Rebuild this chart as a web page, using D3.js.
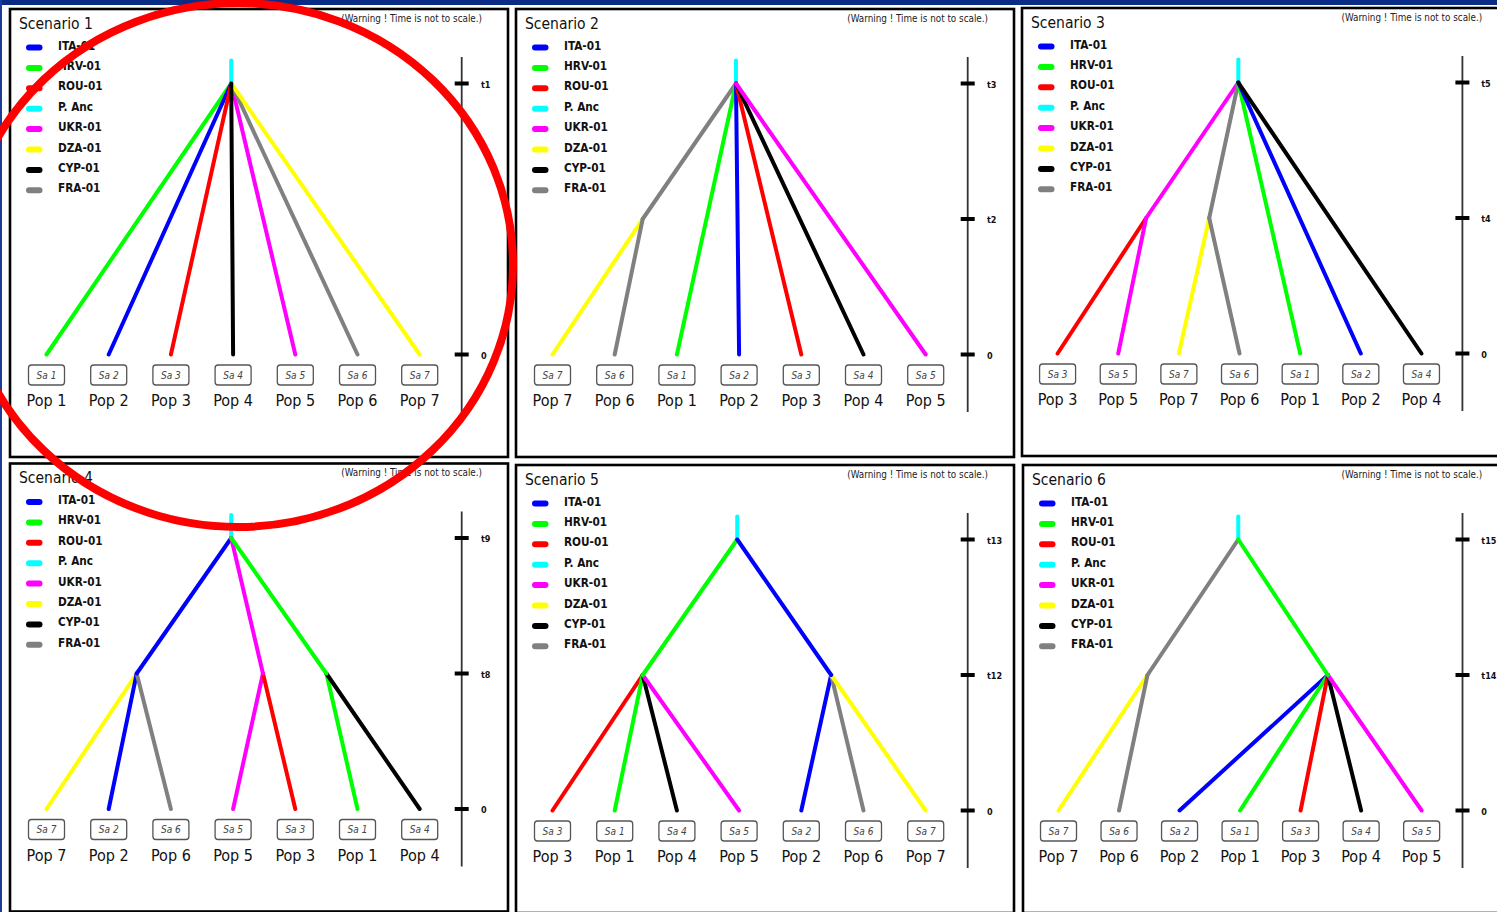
<!DOCTYPE html>
<html>
<head>
<meta charset="utf-8">
<script src="https://cdn.jsdelivr.net/npm/d3@7"></script>
<style>
  html, body { margin: 0; padding: 0; background: #fff; }
  svg { display: block; }
  text { font-family: "DejaVu Sans Condensed", "DejaVu Sans", sans-serif; font-stretch: condensed; }
</style>
</head>
<body>
<svg id="chart"></svg>
<script>
// legend entries (sample names and their colours)
const sampleNames  = ["ITA-01", "HRV-01", "ROU-01", "P. Anc", "UKR-01", "DZA-01", "CYP-01", "FRA-01"];
const sampleColors = ["#0000ff", "#00ff00", "#ff0000", "#00ffff", "#ff00ff", "#ffff00", "#000000", "#808080"];

// sample carried by Pop 1 .. Pop 7
const popSamples = ["HRV-01", "ITA-01", "ROU-01", "CYP-01", "UKR-01", "FRA-01", "DZA-01"];
const ancestorSample = "P. Anc";

const scenarioNames = ["Scenario 1", "Scenario 2", "Scenario 3", "Scenario 4", "Scenario 5", "Scenario 6"];

// left-to-right order of the sampled populations
const leafOrders = [
  [1, 2, 3, 4, 5, 6, 7],
  [7, 6, 1, 2, 3, 4, 5],
  [3, 5, 7, 6, 1, 2, 4],
  [7, 2, 6, 5, 3, 1, 4],
  [3, 1, 4, 5, 2, 6, 7],
  [7, 6, 2, 1, 3, 4, 5]
];

// time axis labels for levels 0, 1, 2
const timeLabels = [
  ["0", null, "t1"],
  ["0", "t2", "t3"],
  ["0", "t4", "t5"],
  ["0", "t8", "t9"],
  ["0", "t12", "t13"],
  ["0", "t14", "t15"]
];

// horizontal slot of the internal nodes (r = root at level 2, others at level 1)
const nodeSlots = [
  {r: 2.97},
  {r: 2.95, a: 1.45},
  {r: 2.98, a: 1.46, b: 2.5},
  {r: 2.97, a: 1.45, b: 3.48, c: 4.5},
  {r: 2.97, a: 1.45, b: 4.48},
  {r: 2.97, a: 1.47, b: 4.45}
];

// branches: [pop giving the colour, child (pop number or node), parent node]
const branches = [
  [[1, 1, "r"], [2, 2, "r"], [3, 3, "r"], [5, 5, "r"], [6, 6, "r"], [7, 7, "r"], [4, 4, "r"]],
  [[7, 7, "a"], [6, 6, "a"], [6, "a", "r"], [1, 1, "r"], [2, 2, "r"], [3, 3, "r"], [4, 4, "r"], [5, 5, "r"]],
  [[3, 3, "a"], [5, 5, "a"], [7, 7, "b"], [6, 6, "b"], [5, "a", "r"], [6, "b", "r"], [1, 1, "r"], [2, 2, "r"], [4, 4, "r"]],
  [[7, 7, "a"], [2, 2, "a"], [6, 6, "a"], [5, 5, "b"], [3, 3, "b"], [1, 1, "c"], [4, 4, "c"], [2, "a", "r"], [5, "b", "r"], [1, "c", "r"]],
  [[3, 3, "a"], [1, 1, "a"], [4, 4, "a"], [5, 5, "a"], [2, 2, "b"], [6, 6, "b"], [7, 7, "b"], [1, "a", "r"], [2, "b", "r"]],
  [[7, 7, "a"], [6, 6, "a"], [2, 2, "b"], [1, 1, "b"], [3, 3, "b"], [4, 4, "b"], [5, 5, "b"], [6, "a", "r"], [1, "b", "r"]]
];

const W = 1497, H = 912;
const svg = d3.select("#chart").attr("width", W).attr("height", H);

// slide frame
svg.append("rect").attr("x", 0).attr("y", 0).attr("width", W).attr("height", 5).attr("fill", "#0b2c86");
svg.append("rect").attr("x", 0).attr("y", 0).attr("width", 2).attr("height", H).attr("fill", "#1d3c98");

// panel placement (sx = slight horizontal squeeze of the right column)
const panels = [
  {x: 10,   y: 9,     sx: 1},
  {x: 516,  y: 9,     sx: 1},
  {x: 1022, y: 8,     sx: 0.975},
  {x: 10,   y: 463.5, sx: 1},
  {x: 516,  y: 465,   sx: 1},
  {x: 1023, y: 465,   sx: 0.973}
];
const panelW = 498, panelH = 448;

const colorOf = name => sampleColors[sampleNames.indexOf(name)];
const popColor = p => colorOf(popSamples[p - 1]);

panels.forEach((p, i) => {
  const g = svg.append("g").attr("transform", `translate(${p.x},${p.y})`);

  g.append("rect")
    .attr("width", panelW).attr("height", panelH)
    .attr("fill", "#fff").attr("stroke", "#000").attr("stroke-width", 2.6);

  g.append("text")
    .attr("x", 9).attr("y", 19.5)
    .attr("font-size", 15.5).attr("fill", "#111")
    .text(scenarioNames[i]);

  g.append("text")
    .attr("x", 472 * p.sx).attr("y", 12.5)
    .attr("text-anchor", "end")
    .attr("font-size", 9.8).attr("fill", "#222")
    .text("(Warning ! Time is not to scale.)");

  // legend
  const leg = g.selectAll("g.leg").data(sampleNames).join("g")
    .attr("class", "leg")
    .attr("transform", (d, k) => `translate(0,${38.5 + k * 20.4})`);
  leg.append("rect")
    .attr("x", 16).attr("y", -3).attr("width", 16.5).attr("height", 6).attr("rx", 3)
    .attr("fill", d => colorOf(d));
  leg.append("text")
    .attr("x", 48).attr("y", 2)
    .attr("font-size", 11.7).attr("font-weight", "bold").attr("fill", "#111")
    .text(d => d);

  // scales
  const x = d3.scaleLinear().domain([0, 6]).range([36.5 * p.sx, (36.5 + 6 * 62.2) * p.sx]);
  const y = d3.scaleLinear().domain([0, 2]).range([345.5, 74.5]);

  // time axis
  const ax = 451.7 * p.sx;
  g.append("line")
    .attr("x1", ax).attr("x2", ax).attr("y1", 48).attr("y2", 403)
    .attr("stroke", "#333").attr("stroke-width", 1.8);
  const ticks = timeLabels[i].map((l, lev) => ({l, lev})).filter(d => d.l !== null);
  g.selectAll("line.tick").data(ticks).join("line")
    .attr("class", "tick")
    .attr("x1", ax - 7).attr("x2", ax + 7)
    .attr("y1", d => y(d.lev)).attr("y2", d => y(d.lev))
    .attr("stroke", "#000").attr("stroke-width", 4);
  g.selectAll("text.tick").data(ticks).join("text")
    .attr("class", "tick")
    .attr("x", 471 * p.sx).attr("y", d => y(d.lev) + 4)
    .attr("font-size", 9).attr("font-weight", "bold").attr("fill", "#111")
    .text(d => d.l);

  // tree
  const order = leafOrders[i];
  const slots = nodeSlots[i];
  const pos = key => typeof key === "number"
    ? [x(order.indexOf(key)), y(0)]
    : [x(slots[key]), y(key === "r" ? 2 : 1)];

  g.append("line")
    .attr("x1", pos("r")[0]).attr("x2", pos("r")[0])
    .attr("y1", pos("r")[1]).attr("y2", pos("r")[1] - 23)
    .attr("stroke", colorOf(ancestorSample)).attr("stroke-width", 4).attr("stroke-linecap", "round");

  g.selectAll("line.branch").data(branches[i]).join("line")
    .attr("class", "branch")
    .attr("x1", d => pos(d[1])[0]).attr("y1", d => pos(d[1])[1])
    .attr("x2", d => pos(d[2])[0]).attr("y2", d => pos(d[2])[1])
    .attr("stroke", d => popColor(d[0]))
    .attr("stroke-width", 4).attr("stroke-linecap", "round");

  // sample boxes and population names
  const leaf = g.selectAll("g.leaf").data(order).join("g")
    .attr("class", "leaf")
    .attr("transform", (d, k) => `translate(${x(k)},0)`);
  leaf.append("rect")
    .attr("x", -18).attr("y", 356).attr("width", 36).attr("height", 20).attr("rx", 3)
    .attr("fill", "#fff").attr("stroke", "#555").attr("stroke-width", 1.3);
  leaf.append("text")
    .attr("y", 369.5).attr("text-anchor", "middle")
    .attr("font-size", 10).attr("font-style", "italic").attr("fill", "#444")
    .text(d => `Sa ${d}`);
  leaf.append("text")
    .attr("y", 397).attr("text-anchor", "middle")
    .attr("font-size", 16).attr("fill", "#111")
    .text(d => `Pop ${d}`);
});

// red highlight round Scenario 1
svg.append("ellipse")
  .attr("cx", 238).attr("cy", 265).attr("rx", 275).attr("ry", 262)
  .attr("fill", "none").attr("stroke", "#ff0000").attr("stroke-width", 8);
</script>
</body>
</html>
